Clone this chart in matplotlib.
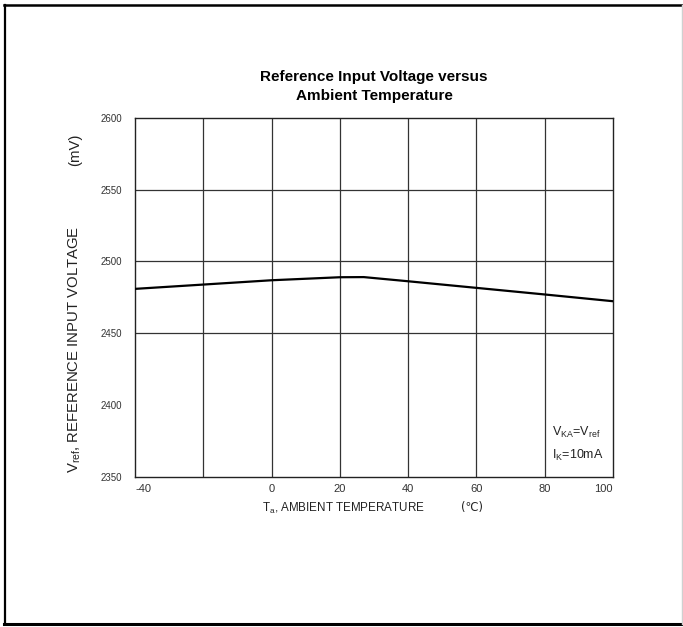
import matplotlib.pyplot as plt
import numpy as np
from matplotlib.lines import Line2D

plt.rcParams['font.family'] = ['Liberation Sans', 'DejaVu Sans']
plt.rcParams['mathtext.fontset'] = 'custom'
plt.rcParams['mathtext.rm'] = 'Liberation Sans'
plt.rcParams['mathtext.it'] = 'Liberation Sans'

# 데이터
temps = [-40, -20, 0, 20, 27, 40, 60, 80, 100]
vref_mv = [2480.8, 2483.8, 2486.8, 2488.9, 2489.0, 2486.1, 2481.5, 2476.9, 2472.2]

x_ticks = [-40, -20, 0, 20, 40, 60, 80, 100]
x_tick_labels = ['-40', '', '0', '20', '40', '60', '80', '100']
y_ticks = [2350, 2400, 2450, 2500, 2550, 2600]
y_grid = [2450, 2500, 2550]

W, H = 683, 627
fig = plt.figure(figsize=(W / 100, H / 100), dpi=100)
fig.patch.set_facecolor('white')

# 바깥 테두리
fig.add_artist(Line2D([4 / W, 682 / W], [1 - 5 / H, 1 - 5 / H], transform=fig.transFigure, color='black', lw=1.8))
fig.add_artist(Line2D([4.5 / W, 4.5 / W], [1 - 5 / H, 1 - 624 / H], transform=fig.transFigure, color='black', lw=1.6))
fig.add_artist(Line2D([4 / W, 682 / W], [1 - 624 / H, 1 - 624 / H], transform=fig.transFigure, color='black', lw=2.2))
fig.add_artist(Line2D([682 / W, 682 / W], [1 - 5 / H, 1 - 624 / H], transform=fig.transFigure, color='#d0d0d0', lw=1))

left, right = 135 / W, 613 / W
top, bottom = 1 - 117.7 / H, 1 - 476.7 / H
ax = fig.add_axes([left, bottom, right - left, top - bottom])

ax.set_xlim(-40, 100)
ax.set_ylim(2350, 2600)

for xv in x_ticks[1:-1]:
    ax.axvline(xv, color='#333333', lw=0.9, zorder=1)
for yv in y_grid:
    ax.axhline(yv, color='#333333', lw=0.9, zorder=1)

ax.plot(temps, vref_mv, color='black', lw=1.6, zorder=3)

for s in ax.spines.values():
    s.set_color('#222222')
    s.set_linewidth(1.0)

ax.set_xticks(x_ticks)
ax.set_xticklabels(x_tick_labels)
ax.set_yticks(y_ticks)
ax.tick_params(axis='both', length=0, labelcolor='#333333')
ax.tick_params(axis='x', labelsize=8, pad=5)
ax.tick_params(axis='y', labelsize=7, pad=9)
xl = ax.get_xticklabels()
xl[0].set_ha('left')
xl[-1].set_ha('right')

ax.set_title('Reference Input Voltage versus\nAmbient Temperature', fontsize=11,
             fontweight='bold', pad=13, linespacing=1.4)

# 축 제목 (단위는 따로 배치)
fig.text(343.5 / W, 1 - 508 / H, r'T$_{\rm a}$, AMBIENT TEMPERATURE', fontsize=8.4,
         color='#222222', ha='center', va='center')
fig.text(472 / W, 1 - 508 / H, '(℃)', fontsize=8.4, color='#222222', ha='center', va='center',
         family=['DejaVu Sans'])
fig.text(75 / W, 1 - 349 / H, r'V$_{\rm ref}$, REFERENCE INPUT VOLTAGE', fontsize=10.7,
         color='#222222', ha='center', va='center', rotation=90)
fig.text(75 / W, 1 - 150 / H, '(mV)', fontsize=10.7, color='#222222', ha='center', va='center',
         rotation=90)

ax.text(0.873, 0.122, r'V$_{\rm KA}$=V$_{\rm ref}$', transform=ax.transAxes, fontsize=9,
        color='#222222', va='center')
ax.text(0.873, 0.060, r'I$_{\rm K}$=10mA', transform=ax.transAxes, fontsize=9,
        color='#222222', va='center')

fig.savefig('out.png', dpi=100, facecolor='white')
